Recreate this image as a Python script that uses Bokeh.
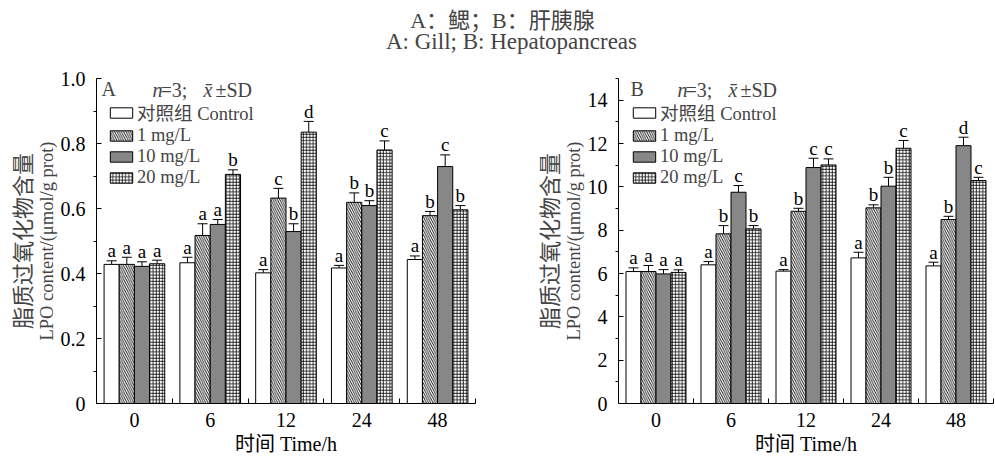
import numpy as np
from bokeh.plotting import figure
from bokeh.models import (ColumnDataSource, Range1d, FixedTicker, Whisker, TeeHead,
                          Legend, LegendItem, Label, Title, CustomJSTickFormatter)
from bokeh.layouts import column, row
from bokeh.embed import file_html
from bokeh.resources import INLINE
from bokeh.core.properties import value

# ---------------- data ----------------
times = ["0", "6", "12", "24", "48"]
series = ["对照组 Control", "1 mg/L", "10 mg/L", "20 mg/L"]

# A: Gill
gill_control = [0.428, 0.433, 0.402, 0.417, 0.443]
gill_1mg = [0.428, 0.517, 0.632, 0.619, 0.578]
gill_10mg = [0.422, 0.551, 0.529, 0.609, 0.729]
gill_20mg = [0.430, 0.705, 0.835, 0.780, 0.596]
gill_control_sd = [0.011, 0.017, 0.010, 0.008, 0.011]
gill_1mg_sd = [0.022, 0.036, 0.030, 0.029, 0.013]
gill_10mg_sd = [0.014, 0.015, 0.024, 0.015, 0.036]
gill_20mg_sd = [0.011, 0.014, 0.033, 0.028, 0.013]
gill_control_sig = ["a", "a", "a", "a", "a"]
gill_1mg_sig = ["a", "a", "c", "b", "b"]
gill_10mg_sig = ["a", "a", "b", "b", "c"]
gill_20mg_sig = ["a", "b", "d", "c", "b"]

# B: Hepatopancreas
hep_control = [6.09, 6.40, 6.11, 6.72, 6.35]
hep_1mg = [6.09, 7.83, 8.87, 9.03, 8.49]
hep_10mg = [5.98, 9.75, 10.89, 10.03, 11.90]
hep_20mg = [6.05, 8.06, 11.01, 11.78, 10.29]
hep_control_sd = [0.17, 0.15, 0.07, 0.26, 0.17]
hep_1mg_sd = [0.28, 0.38, 0.14, 0.14, 0.15]
hep_10mg_sd = [0.20, 0.31, 0.43, 0.41, 0.39]
hep_20mg_sd = [0.12, 0.15, 0.28, 0.36, 0.15]
hep_control_sig = ["a", "a", "a", "a", "a"]
hep_1mg_sig = ["a", "b", "b", "b", "b"]
hep_10mg_sig = ["a", "c", "c", "b", "d"]
hep_20mg_sig = ["a", "b", "c", "c", "c"]

gill_y_ticks = [0, 0.2, 0.4, 0.6, 0.8, 1.0]
gill_y_minor = [0.1, 0.3, 0.5, 0.7, 0.9]
hep_y_ticks = [0, 2, 4, 6, 8, 10, 12, 14]
hep_y_minor = [1, 3, 5, 7, 9, 11, 13, 15]

title_cn = "A：鳃；B：肝胰腺"
title_en = "A: Gill; B: Hepatopancreas"
ylabel_cn = "脂质过氧化物含量"
ylabel_en = "LPO content/(μmol/g prot)"
xlabel = "时间 Time/h"

# ---------------- styles ----------------
SERIF = "Liberation Serif"
MIX = "Liberation Serif, Noto Sans CJK SC"
styles = [
    dict(fill_color="white", hatch_pattern=None),
    dict(fill_color="white", hatch_pattern="\\", hatch_scale=4.5, hatch_weight=0.9, hatch_color="black"),
    dict(fill_color="#878787", hatch_pattern=None),
    dict(fill_color="white", hatch_pattern="+", hatch_scale=3.2, hatch_weight=0.8, hatch_color="black"),
]

PAGE_W, PAGE_H = 995, 458
TITLE_H = 58


def make_panel(values, sds, sigs, y_max, y_ticks, y_minor, fig_x0, fig_w,
               frame, panel_letter, letter_dx, legend_dx, note_dx, zero_fmt):
    fl, fr, ft, fb = frame  # page px of frame
    x_max = len(times)

    def to_data(px, py):
        x = (px - fl) / (fr - fl) * x_max
        y = (fb - py) / (fb - ft) * y_max
        return x, y

    p = figure(width=fig_w, height=PAGE_H - TITLE_H,
               x_range=Range1d(0, x_max), y_range=Range1d(0, y_max),
               toolbar_location=None, output_backend="svg",
               min_border_left=fl - fig_x0, min_border_right=fig_x0 + fig_w - fr,
               min_border_top=ft - TITLE_H, min_border_bottom=PAGE_H - fb)
    p.outline_line_color = None
    p.grid.visible = False
    p.background_fill_color = "white"

    items = []
    centers = np.arange(len(times)) + 0.5
    for i, (vals, sd, sig) in enumerate(zip(values, sds, sigs)):
        xs = centers + (i - 1.5) * 0.2
        top = np.array(vals)
        upper = top + np.array(sd)
        src = ColumnDataSource(dict(x=xs, top=top, upper=upper, sig=sig))
        st = {k: v for k, v in styles[i].items() if v is not None}
        r = p.vbar(x="x", top="top", width=0.2, source=src,
                   line_color="black", line_width=1, **st)
        items.append(LegendItem(label=series[i], renderers=[r]))
        w = Whisker(base="x", lower="top", upper="upper", source=src,
                    line_color="black", line_width=1,
                    upper_head=TeeHead(size=10, line_color="black", line_width=1),
                    lower_head=None)
        p.add_layout(w)
        p.text(x="x", y="upper", text="sig", source=src,
               text_font=value(SERIF), text_font_size="19px",
               text_align="center", text_baseline="alphabetic",
               y_offset=-10, text_color="black")

    legend = Legend(items=items, location=(legend_dx, 215),
                    glyph_width=28, glyph_height=13, label_standoff=2,
                    label_text_font=MIX, label_text_font_size="18.5px",
                    label_height=18, spacing=0, padding=0, margin=0,
                    background_fill_alpha=0, border_line_alpha=0)
    p.add_layout(legend)

    # axes
    xa = p.xaxis[0]
    xa.ticker = FixedTicker(ticks=list(centers), minor_ticks=[1, 2, 3, 4, 5])
    xa.formatter = CustomJSTickFormatter(args=dict(labels=times),
                                         code="return labels[Math.floor(tick)];")
    xa.major_tick_in = 0
    xa.major_tick_out = 0
    xa.minor_tick_in = 5
    xa.minor_tick_out = 0
    xa.major_label_standoff = 9
    xa.axis_label = xlabel
    xa.axis_label_text_font = MIX
    xa.axis_label_text_font_size = "20px"
    xa.axis_label_text_font_style = "normal"
    xa.axis_label_text_line_height = 1.0
    xa.axis_label_standoff = 3

    ya = p.yaxis[0]
    ya.ticker = FixedTicker(ticks=y_ticks, minor_ticks=y_minor)
    ya.formatter = CustomJSTickFormatter(code=zero_fmt)
    ya.major_tick_in = 5
    ya.major_tick_out = 0
    ya.minor_tick_in = 0
    ya.minor_tick_out = 3
    ya.major_label_standoff = 8

    for ax in (xa, ya):
        ax.axis_line_color = "black"
        ax.major_tick_line_color = "black"
        ax.minor_tick_line_color = "black"
        ax.major_label_text_font = SERIF
        ax.major_label_text_font_size = "20px"
        ax.major_label_text_color = "black"
        ax.axis_label_text_color = "black"

    # y axis titles as side titles (English next to axis, Chinese outside)
    p.add_layout(Title(text=ylabel_en, text_font=SERIF, text_font_size="18.5px",
                       text_font_style="normal", align="center", standoff=1,
                       text_line_height=1.0), "left")
    p.add_layout(Title(text=ylabel_cn, text_font=MIX, text_font_size="22px",
                       text_font_style="normal", align="center", standoff=-3,
                       text_line_height=1.0), "left")

    # panel letter and n=3 note
    lx, ly = to_data(fl + letter_dx, 88)
    p.add_layout(Label(x=lx, y=ly, text=panel_letter, text_font=SERIF,
                       text_font_size="20px", text_baseline="alphabetic"))
    pieces = [("n", "italic", 0), ("=3;", "normal", 8), ("x\u0304", "italic", 51),
              ("±SD", "normal", 63)]
    for txt, sty, dx in pieces:
        tx, ty = to_data(fl + note_dx + dx, 89)
        p.add_layout(Label(x=tx, y=ty, text=txt, text_font=SERIF,
                           text_font_style=sty, text_font_size="20px",
                           text_baseline="alphabetic"))
    return p


pA = make_panel([gill_control, gill_1mg, gill_10mg, gill_20mg],
                [gill_control_sd, gill_1mg_sd, gill_10mg_sd, gill_20mg_sd],
                [gill_control_sig, gill_1mg_sig, gill_10mg_sig, gill_20mg_sig],
                1.0, gill_y_ticks, gill_y_minor, 0, 497, (96, 475, 78, 403), "A", 5, 11, 56,
                "return tick === 0 ? '0' : tick.toFixed(1);")
pB = make_panel([hep_control, hep_1mg, hep_10mg, hep_20mg],
                [hep_control_sd, hep_1mg_sd, hep_10mg_sd, hep_20mg_sd],
                [hep_control_sig, hep_1mg_sig, hep_10mg_sig, hep_20mg_sig],
                15, hep_y_ticks, hep_y_minor, 497, 498, (618, 993, 78, 403), "B", 12, 12, 59,
                "return tick.toFixed(0);")

# title strip
pt = figure(width=PAGE_W, height=TITLE_H, x_range=Range1d(0, PAGE_W),
            y_range=Range1d(TITLE_H, 0), toolbar_location=None, output_backend="svg",
            x_axis_location=None, y_axis_location=None, min_border=0)
pt.outline_line_color = None
pt.grid.visible = False
pt.add_layout(Label(x=502, y=20, text=title_cn, text_font=MIX, text_font_size="22px",
                    text_align="center", text_baseline="middle"))
pt.add_layout(Label(x=511, y=41, text=title_en, text_font=SERIF, text_font_size="23px",
                    text_align="center", text_baseline="middle"))

layout = column(pt, row(pA, pB, spacing=0), spacing=0)
open("out.html", "w").write(file_html(layout, INLINE))
